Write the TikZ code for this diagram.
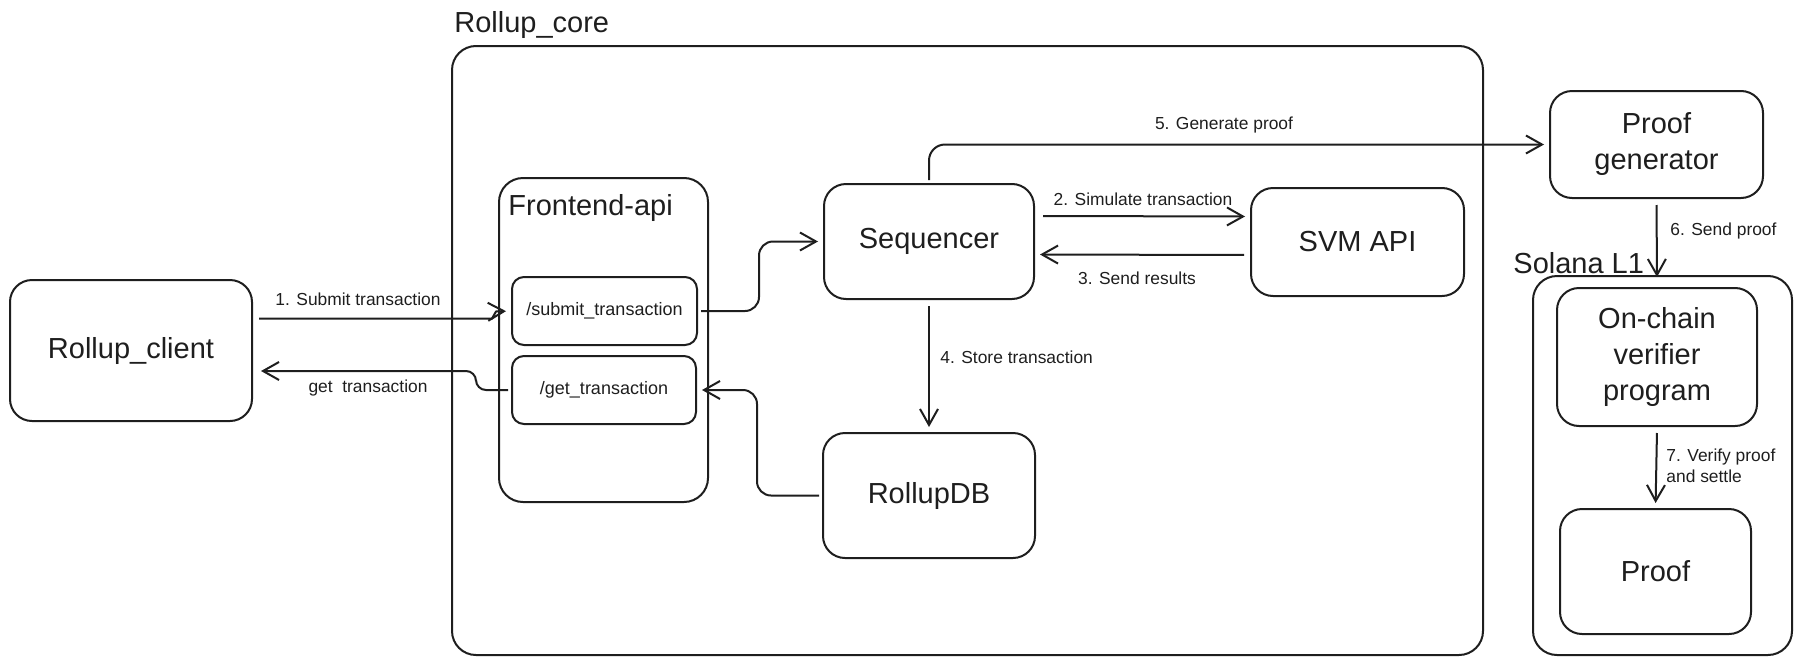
\documentclass[tikz,border=0pt]{standalone}
\usepackage{fontspec}
\setmainfont{Liberation Sans}
\usetikzlibrary{arrows.meta,calc}
\definecolor{ink}{HTML}{1E1E1E}
\begin{document}
\begin{tikzpicture}[x=0.5pt,y=-0.5pt,
  every node/.style={text=ink},
  box/.style={draw=ink, line width=1pt, rounded corners=11pt, inner sep=0pt, align=center, font=\fontsize{14.5}{18}\selectfont},
  ep/.style={draw=ink, line width=1pt, rounded corners=6pt, inner sep=0pt, align=center, font=\fontsize{9}{11}\selectfont},
  cont/.style={draw=ink, line width=1pt, rounded corners=12pt, inner sep=0pt},
  clabel/.style={font=\fontsize{14.5}{17}\selectfont, anchor=west, inner sep=0pt},
  lbl/.style={font=\fontsize{8.7}{10.5}\selectfont, inner sep=0pt},
  arr/.style={draw=ink, line width=1pt, -{Straight Barb[length=8pt,width=9pt,line width=1pt]}, shorten >=2.5pt, shorten <=1.5pt},
]
\useasboundingbox (0,0) rectangle (1802,664);

% containers
\node[cont, minimum width=515.5pt, minimum height=304.5pt] (core) at (967.5,350.5) {};
\node[clabel] (corelbl) at (454,25) {Rollup\_core};
\node[cont, minimum width=104.5pt, minimum height=162pt] (front) at (603.5,340) {};
\node[clabel] (frontlbl) at (508,208) {Frontend-api};
\node[cont, minimum width=129.5pt, minimum height=189.5pt] (solana) at (1662.5,465.5) {};
\node[clabel] (solanalbl) at (1513,263) {Solana L1};

% boxes
\node[box, minimum width=121pt, minimum height=70.5pt] (client) at (131,350.5) {Rollup\_client};
\node[ep, minimum width=92.5pt, minimum height=34pt] (submit) at (604.5,311) {/submit\_transaction};
\node[ep, minimum width=92pt, minimum height=34pt] (get) at (604,390) {/get\_transaction};
\node[box, minimum width=105pt, minimum height=57.5pt] (seq) at (929,241.5) {Sequencer};
\node[box, minimum width=106.5pt, minimum height=54pt] (svm) at (1357.5,242) {SVM API};
\node[box, minimum width=106pt, minimum height=62.5pt] (db) at (929,495.5) {RollupDB};
\node[box, minimum width=106.5pt, minimum height=53.5pt] (pg) at (1656.5,144.5) {Proof\\generator};
\node[box, minimum width=100pt, minimum height=69pt] (onchain) at (1657,357) {On-chain\\verifier\\program};
\node[box, minimum width=95.5pt, minimum height=62.5pt] (proof) at (1655.5,571.5) {Proof};

% connectors
\draw[arr] ($(client.east)+(3,-32)$) -- ++(236,0) -- ++(4,-7) -- (submit.west);
\draw[arr, rounded corners=5pt] (get.west) -- ++(-35,0) |- ($(client.east)+(3,20.5)$);
\draw[arr, rounded corners=7pt] (submit.east) -- ++(61,0) |- (seq.west);
\draw[arr, rounded corners=7pt] (db.west) -- ++(-65,0) |- (get.east);
\draw[arr] ($(seq.east)+(5,-25.5)$) -- ($(svm.west)+(0,-25.5)$);
\draw[arr] ($(svm.west)+(-3,13)$) -- ($(seq.east)+(0,13)$);
\draw[arr] ($(seq.south)+(0,3)$) -- (db.north);
\draw[arr, rounded corners=8pt] (seq.north) |- (pg.west);
\draw[arr] ($(pg.south)+(0,3)$) -- ($(onchain.north)+(0,-5)$);
\draw[arr] ($(onchain.south)+(0,3)$) -- (proof.north);

% connector labels
\node[lbl] (l1) at (358,299) {1. Submit transaction};
\node[lbl] (lget) at (368,388) {get\ \ transaction};
\node[lbl] (l2) at (1143,199) {2. Simulate transaction};
\node[lbl] (l3) at (1137,278) {3. Send results};
\node[lbl, anchor=west] (l4) at (940,357) {4. Store transaction};
\node[lbl] (l5) at (1224,125) {5. Generate proof};
\node[lbl, anchor=west] (l6) at (1670,231) {6. Send proof};
\node[lbl, anchor=west, align=left] (l7) at (1666,466) {7. Verify proof\\and settle};
\end{tikzpicture}
\end{document}
